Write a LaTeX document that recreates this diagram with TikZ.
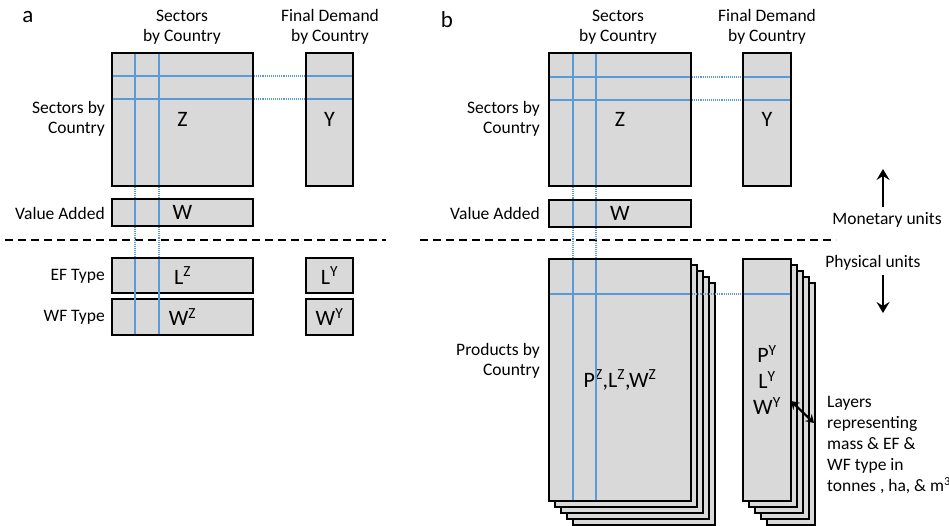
\documentclass[tikz,border=0pt]{standalone}
\usepackage{fontspec}
\setmainfont{Carlito}
\usetikzlibrary{calc,arrows.meta}
\definecolor{boxgray}{HTML}{D9D9D9}
\definecolor{gridblue}{HTML}{5B9BD5}

\tikzset{
  matbox/.style={draw, fill=boxgray, line width=2pt, anchor=north west,
    inner sep=0pt, outer sep=0pt, font=\fontsize{22}{26}\selectfont, align=center},
  lbl/.style={inner sep=0pt, font=\fontsize{17.5}{20}\selectfont, align=center},
  sidelbl/.style={lbl, anchor=east, align=right},
  gridln/.style={gridblue, line width=1.1pt},
  griddot/.style={gridblue, line width=1.1pt, densely dotted},
  sepline/.style={line width=1.8pt, dash pattern=on 8pt off 5pt},
  unitarrow/.style={line width=2.4pt, -{Stealth[length=11pt,width=13pt,inset=4pt]}},
}

\begin{document}
\begin{tikzpicture}[x=1pt,y=-1pt]
\useasboundingbox (0,0) rectangle (949,526);

% panel a
\node[lbl, font=\fontsize{23}{24}\selectfont] (pa) at (28,17) {a};
\node[lbl] (seca) at (182,27) {Sectors\\by Country};
\node[lbl] (fda) at (330,27) {Final Demand\\by Country};
\node[matbox, minimum width=141, minimum height=133] (Za) at (112,53) {Z};
\node[matbox, minimum width=47, minimum height=133] (Ya) at (306,53) {Y};
\node[matbox, minimum width=141, minimum height=27] (Wa) at (112,199) {W};
\node[matbox, minimum width=141, minimum height=35] (LZa) at (112,258) {L\textsuperscript{Z}};
\node[matbox, minimum width=141, minimum height=36] (WZa) at (112,299) {W\textsuperscript{Z}};
\node[matbox, minimum width=47, minimum height=35] (LYa) at (306,258) {L\textsuperscript{Y}};
\node[matbox, minimum width=47, minimum height=36] (WYa) at (306,299) {W\textsuperscript{Y}};
\node[sidelbl] (rowa) at (105,119) {Sectors by\\Country};
\node[sidelbl] (vaa) at (105,213) {Value Added};
\node[sidelbl] (efa) at (105,276) {EF Type};
\node[sidelbl] (wfa) at (105,317) {WF Type};
\coordinate (sepa1) at (5,240);
\coordinate (sepa2) at (386,240);
\draw[sepline] (sepa1) -- (sepa2);

\foreach \d in {23,46} {
  \draw[gridln] ($(Za.north west)+(1,\d)$) -- ($(Za.north east)+(-1,\d)$);
  \draw[griddot] ($(Za.north east)+(1,\d)$) -- ($(Ya.north west)+(-1,\d)$);
  \draw[gridln] ($(Ya.north west)+(1,\d)$) -- ($(Ya.north east)+(-1,\d)$);
}
\foreach \d in {23,47} {
  \draw[gridln] ($(Za.north west)+(\d,1)$) -- ($(Za.south west)+(\d,-1)$);
  \draw[griddot] ($(Za.south west)+(\d,1)$) -- ($(Wa.north west)+(\d,-1)$);
  \draw[gridln] ($(Wa.north west)+(\d,1)$) -- ($(Wa.south west)+(\d,-1)$);
  \draw[griddot] ($(Wa.south west)+(\d,1)$) -- ($(LZa.north west)+(\d,-1)$);
  \draw[gridln] ($(LZa.north west)+(\d,1)$) -- ($(WZa.south west)+(\d,-1)$);
}

% panel b
\node[lbl, font=\fontsize{23}{24}\selectfont] (pb) at (447,20) {b};
\node[lbl] (secb) at (618,27) {Sectors\\by Country};
\node[lbl] (fdb) at (767,27) {Final Demand\\by Country};
\node[matbox, minimum width=142, minimum height=133] (Zb) at (549,53) {Z};
\node[matbox, minimum width=48, minimum height=133] (Yb) at (743,53) {Y};
\node[matbox, minimum width=142, minimum height=27] (Wb) at (549,200) {W};
\foreach \i in {4,3,2,1} {
  \node[matbox, minimum width=142, minimum height=242] at (549+6*\i,259+6*\i) {};
  \node[matbox, minimum width=48, minimum height=242] at (743+6*\i,259+6*\i) {};
}
\node[matbox, minimum width=142, minimum height=242] (Pb) at (549,259) {P\textsuperscript{Z},L\textsuperscript{Z},W\textsuperscript{Z}};
\node[matbox, minimum width=48, minimum height=242] (PYb) at (743,259) {P\textsuperscript{Y}\\L\textsuperscript{Y}\\W\textsuperscript{Y}};
\node[sidelbl] (rowb) at (540,119) {Sectors by\\Country};
\node[sidelbl] (vab) at (540,213) {Value Added};
\node[sidelbl] (prb) at (540,361) {Products by\\Country};
\coordinate (sepb1) at (420,240);
\coordinate (sepb2) at (836,240);
\draw[sepline] (sepb1) -- (sepb2);

\foreach \d in {24,47} {
  \draw[gridln] ($(Zb.north west)+(1,\d)$) -- ($(Zb.north east)+(-1,\d)$);
  \draw[griddot] ($(Zb.north east)+(1,\d)$) -- ($(Yb.north west)+(-1,\d)$);
  \draw[gridln] ($(Yb.north west)+(1,\d)$) -- ($(Yb.north east)+(-1,\d)$);
}
\draw[gridln] ($(Pb.north west)+(1,35)$) -- ($(Pb.north east)+(-1,35)$);
\draw[griddot] ($(Pb.north east)+(1,35)$) -- ($(PYb.north west)+(-1,35)$);
\draw[gridln] ($(PYb.north west)+(1,35)$) -- ($(PYb.north east)+(-1,35)$);
\foreach \d in {24,47} {
  \draw[gridln] ($(Zb.north west)+(\d,1)$) -- ($(Zb.south west)+(\d,-1)$);
  \draw[griddot] ($(Zb.south west)+(\d,1)$) -- ($(Wb.north west)+(\d,-1)$);
  \draw[gridln] ($(Wb.north west)+(\d,1)$) -- ($(Wb.south west)+(\d,-1)$);
  \draw[griddot] ($(Wb.south west)+(\d,1)$) -- ($(Pb.north west)+(\d,-1)$);
  \draw[gridln] ($(Pb.north west)+(\d,1)$) -- ($(Pb.south west)+(\d,-1)$);
}

% units
\node[lbl] (mon) at (887,220) {Monetary units};
\coordinate (monlo) at (883,207);
\coordinate (monhi) at (883,169);
\draw[unitarrow] (monlo) -- (monhi);
\node[lbl] (phy) at (873,263) {Physical units};
\coordinate (phyhi) at (883,275);
\coordinate (phylo) at (883,313);
\draw[unitarrow] (phyhi) -- (phylo);

% layers
\node[lbl, anchor=west, align=left, font=\fontsize{17.5}{21}\selectfont] (lay) at (827,445)
  {Layers\\representing\\mass \& EF \&\\WF type in\\tonnes , ha, \& m\textsuperscript{3}};
\coordinate (lay1) at (791,401);
\coordinate (lay2) at (814,423);
\draw[line width=2.2pt, {Stealth[length=8pt,width=10pt,inset=3pt]}-{Stealth[length=8pt,width=10pt,inset=3pt]}] (lay1) -- (lay2);
\end{tikzpicture}
\end{document}
